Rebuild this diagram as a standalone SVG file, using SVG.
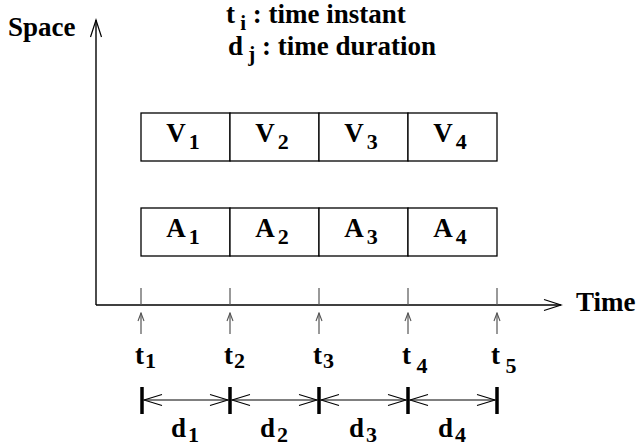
<svg xmlns="http://www.w3.org/2000/svg" width="637" height="447" viewBox="0 0 637 447">
<defs>
<style>
.box{fill:#fff;stroke:#000;stroke-width:1.3}
.axis{stroke:#000;stroke-width:1.4;fill:none}
.tick{stroke:#555;stroke-width:1.2;fill:none}
.dur{stroke:#000;stroke-width:1;fill:none}
.bar{stroke:#000;stroke-width:3.5}
</style>
<marker id="big" markerUnits="userSpaceOnUse" viewBox="0 0 20 14" refX="18" refY="7" markerWidth="20" markerHeight="14" orient="auto-start-reverse">
<path d="M1,1.5 L18,7 L1,12.5" fill="none" stroke="#000" stroke-width="1.2"/>
</marker>
<marker id="small" markerUnits="userSpaceOnUse" viewBox="0 0 10 8" refX="9" refY="4" markerWidth="10" markerHeight="8" orient="auto">
<path d="M1,1 L9,4 L1,7" fill="none" stroke="#555" stroke-width="1.1"/>
</marker>
<marker id="dur" markerUnits="userSpaceOnUse" viewBox="0 0 20 14" refX="19" refY="7" markerWidth="20" markerHeight="14" orient="auto-start-reverse">
<path d="M1,1.5 L19,7 L1,12.5" fill="none" stroke="#000" stroke-width="1.1"/>
</marker>
</defs>
<g id="legend">
<text font-family="Liberation Serif" font-weight="bold" font-size="27" x="226" y="23">t<tspan font-size="21" dy="7"> i</tspan><tspan dy="-7"> : time instant</tspan></text>
<text font-family="Liberation Serif" font-weight="bold" font-size="27" x="228" y="55">d<tspan font-size="21" dy="6"> j</tspan><tspan dy="-6"> : time duration</tspan></text>
</g>
<g id="axes">
<line class="axis" x1="96" y1="305" x2="96" y2="20" marker-end="url(#big)"/>
<line class="axis" x1="96" y1="305" x2="561" y2="305" marker-end="url(#big)"/>
<text font-family="Liberation Serif" font-weight="bold" font-size="27" x="8" y="36">Space</text>
<text font-family="Liberation Serif" font-weight="bold" font-size="27" x="576" y="311">Time</text>
</g>
<g id="video-row">
<g id="V1"><rect class="box" x="141" y="113" width="89" height="48"/><text font-family="Liberation Serif" font-weight="bold" font-size="27" x="183" y="142" text-anchor="middle">V<tspan font-size="22" dx="3" dy="7">1</tspan></text></g>
<g id="V2"><rect class="box" x="230" y="113" width="89" height="48"/><text font-family="Liberation Serif" font-weight="bold" font-size="27" x="272" y="142" text-anchor="middle">V<tspan font-size="22" dx="3" dy="7">2</tspan></text></g>
<g id="V3"><rect class="box" x="319" y="113" width="89" height="48"/><text font-family="Liberation Serif" font-weight="bold" font-size="27" x="361" y="142" text-anchor="middle">V<tspan font-size="22" dx="3" dy="7">3</tspan></text></g>
<g id="V4"><rect class="box" x="408" y="113" width="89" height="48"/><text font-family="Liberation Serif" font-weight="bold" font-size="27" x="450" y="142" text-anchor="middle">V<tspan font-size="22" dx="3" dy="7">4</tspan></text></g>
</g>
<g id="audio-row">
<g id="A1"><rect class="box" x="141" y="208" width="89" height="48"/><text font-family="Liberation Serif" font-weight="bold" font-size="27" x="183" y="237" text-anchor="middle">A<tspan font-size="22" dx="3" dy="7">1</tspan></text></g>
<g id="A2"><rect class="box" x="230" y="208" width="89" height="48"/><text font-family="Liberation Serif" font-weight="bold" font-size="27" x="272" y="237" text-anchor="middle">A<tspan font-size="22" dx="3" dy="7">2</tspan></text></g>
<g id="A3"><rect class="box" x="319" y="208" width="89" height="48"/><text font-family="Liberation Serif" font-weight="bold" font-size="27" x="361" y="237" text-anchor="middle">A<tspan font-size="22" dx="3" dy="7">3</tspan></text></g>
<g id="A4"><rect class="box" x="408" y="208" width="89" height="48"/><text font-family="Liberation Serif" font-weight="bold" font-size="27" x="450" y="237" text-anchor="middle">A<tspan font-size="22" dx="3" dy="7">4</tspan></text></g>
</g>
<g id="connectors">
<g id="ticks">
<line class="tick" x1="141" y1="288" x2="141" y2="305"/>
<line class="tick" x1="230" y1="288" x2="230" y2="305"/>
<line class="tick" x1="319" y1="288" x2="319" y2="305"/>
<line class="tick" x1="408" y1="288" x2="408" y2="305"/>
<line class="tick" x1="497" y1="288" x2="497" y2="305"/>
</g>
<g id="instant-arrows">
<line class="tick" x1="141" y1="334" x2="141" y2="313" marker-end="url(#small)"/>
<line class="tick" x1="230" y1="334" x2="230" y2="313" marker-end="url(#small)"/>
<line class="tick" x1="319" y1="334" x2="319" y2="313" marker-end="url(#small)"/>
<line class="tick" x1="408" y1="334" x2="408" y2="313" marker-end="url(#small)"/>
<line class="tick" x1="497" y1="334" x2="497" y2="313" marker-end="url(#small)"/>
</g>
<g id="bars">
<line class="bar" x1="142" y1="387" x2="142" y2="414"/>
<line class="bar" x1="230" y1="387" x2="230" y2="414"/>
<line class="bar" x1="319" y1="387" x2="319" y2="414"/>
<line class="bar" x1="408" y1="387" x2="408" y2="414"/>
<line class="bar" x1="497" y1="387" x2="497" y2="414"/>
</g>
<g id="durations">
<line class="dur" x1="144" y1="400" x2="228" y2="400" marker-start="url(#dur)" marker-end="url(#dur)"/>
<line class="dur" x1="232" y1="400" x2="317" y2="400" marker-start="url(#dur)" marker-end="url(#dur)"/>
<line class="dur" x1="321" y1="400" x2="406" y2="400" marker-start="url(#dur)" marker-end="url(#dur)"/>
<line class="dur" x1="410" y1="400" x2="495" y2="400" marker-start="url(#dur)" marker-end="url(#dur)"/>
</g>
</g>
<g id="instant-labels">
<text font-family="Liberation Serif" font-weight="bold" font-size="27" x="135" y="364">t<tspan font-size="22" dx="1" dy="4">1</tspan></text>
<text font-family="Liberation Serif" font-weight="bold" font-size="27" x="224" y="364">t<tspan font-size="22" dx="1" dy="4">2</tspan></text>
<text font-family="Liberation Serif" font-weight="bold" font-size="27" x="313" y="364">t<tspan font-size="22" dx="1" dy="4">3</tspan></text>
<text font-family="Liberation Serif" font-weight="bold" font-size="27" x="402" y="364">t<tspan font-size="22" dy="9"> 4</tspan></text>
<text font-family="Liberation Serif" font-weight="bold" font-size="27" x="491" y="364">t<tspan font-size="22" dy="9"> 5</tspan></text>
</g>
<g id="duration-labels">
<text font-family="Liberation Serif" font-weight="bold" font-size="27" x="185" y="437" text-anchor="middle">d<tspan font-size="22" dx="2" dy="5">1</tspan></text>
<text font-family="Liberation Serif" font-weight="bold" font-size="27" x="274" y="437" text-anchor="middle">d<tspan font-size="22" dx="2" dy="5">2</tspan></text>
<text font-family="Liberation Serif" font-weight="bold" font-size="27" x="363" y="437" text-anchor="middle">d<tspan font-size="22" dx="2" dy="5">3</tspan></text>
<text font-family="Liberation Serif" font-weight="bold" font-size="27" x="452" y="437" text-anchor="middle">d<tspan font-size="22" dx="2" dy="5">4</tspan></text>
</g>
</svg>
